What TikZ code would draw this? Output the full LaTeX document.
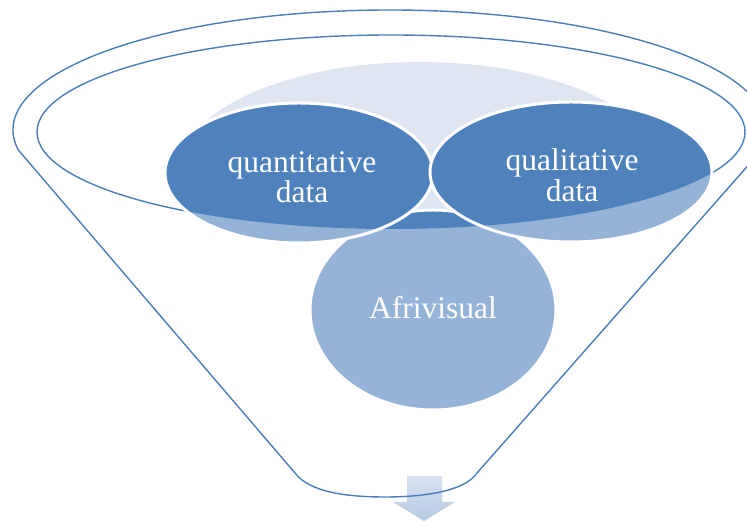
\documentclass[tikz,border=0pt]{standalone}
\usepackage{fontspec}
\setmainfont{Liberation Serif}
\usepackage{xcolor}
\usepackage{tikz}
\usetikzlibrary{arrows.meta}

\definecolor{rimblue}{HTML}{4A7EBB}
\definecolor{darkblob}{HTML}{4F81BD}
\definecolor{lightblob}{HTML}{95B3D7}
\definecolor{paleblob}{HTML}{DFE6F2}

\tikzset{
    rim/.style={draw=rimblue, line width=1.4pt},
    blobtext/.style={text=white, align=center, font=\fontsize{31.5}{30.5}\selectfont}
}

\begin{document}
\begin{tikzpicture}[x=1pt,y=1pt]
    \useasboundingbox (0,0) rectangle (747,521);
    \clip (0,0) rectangle (747,521);
    \coordinate (mouth) at (391,389);
    \coordinate (rimL) at (18.3,371);
    \coordinate (funR) at (477,48);
    \coordinate (funL) at (295,48);
    \coordinate (pale) at (420,351);
    \coordinate (afri) at (433,211);
    \coordinate (quant) at (299,348);
    \coordinate (qual) at (571,349);
    % Draw the mouth of the funnel
    \draw[rim] (mouth) ellipse [x radius=354, y radius=97];
    \begin{scope}
        \clip (mouth) ellipse [x radius=354, y radius=97];
        \fill[paleblob] (pale) ellipse [x radius=240, y radius=108];
    \end{scope}
    % Draw the three blobs, darker inside the mouth
    \foreach \c/\rx/\ry in {afri/123/100, quant/134/70, qual/141/70} {
        \fill[lightblob] (\c) ellipse [x radius=\rx, y radius=\ry];
        \begin{scope}
            \clip (mouth) ellipse [x radius=354, y radius=97];
            \fill[darkblob] (\c) ellipse [x radius=\rx, y radius=\ry];
        \end{scope}
        \draw[white, line width=3pt] (\c) ellipse [x radius=\rx, y radius=\ry];
    }
    \node[blobtext] (afritext) at (433,213) {Afrivisual};
    \node[blobtext] (quanttext) at (302,344) {quantitative\\data};
    \node[blobtext] (qualtext) at (572,346) {qualitative\\data};
    % Draw the arrow out of the funnel
    \shade[top color=paleblob!90!lightblob, bottom color=lightblob!70!white]
        (407,45) -- (442,45) -- (442,19) -- (455,19) -- (424,0) -- (393,19) -- (407,19) -- cycle;
    % Draw the funnel outline
    \draw[rim] (rimL) arc[start angle=189.6, end angle=-9.6, x radius=377, y radius=120]
        -- (funR) .. controls (465,30) and (425,24) .. (385,24)
        .. controls (350,24) and (310,28) .. (funL) -- cycle;
\end{tikzpicture}
\end{document}
